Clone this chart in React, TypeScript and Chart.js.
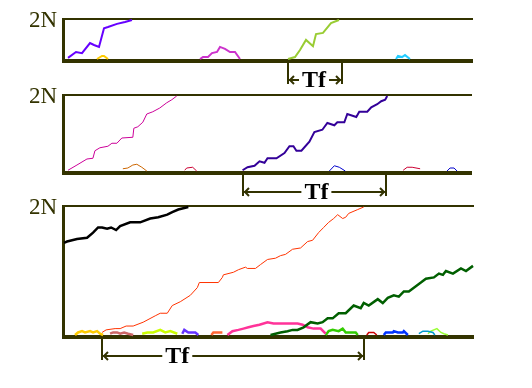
import { useEffect, useRef } from "react";
import { Chart, registerables } from "chart.js";
Chart.register(...registerables);

// x: generations, y: copies of the allele as % of 2N
const GEN_MAX = 408;
const TWO_N = 100;

// Panel 1
const p1aX = [4, 12, 18, 26, 30, 35, 40, 44, 53, 61, 68];
const p1aY = [3, 18, 15, 41, 36, 31, 79, 82, 90, 95, 100];
const p1bX = [33, 38, 40, 44];
const p1bY = [0, 8, 8, 0];
const p1cX = [136, 139, 144, 148, 153, 156, 161, 166, 171, 176];
const p1cY = [0, 5, 5, 15, 18, 31, 26, 18, 18, 0];
const p1dX = [224, 231, 236, 242, 249, 252, 259, 267, 275];
const p1dY = [0, 5, 23, 49, 33, 64, 67, 92, 100];
const p1eX = [332, 334, 338, 341, 346];
const p1eY = [0, 8, 5, 10, 0];
const p1Tf = [224, 278, 250];

// Panel 2
const p2aX = [4, 13, 23, 29, 31, 36, 44, 48, 53, 58, 69, 70, 74, 79, 83, 89, 96, 103, 108, 113];
const p2aY = [1, 8, 16, 17, 27, 31, 33, 37, 37, 44, 45, 57, 59, 65, 76, 79, 84, 91, 95, 100];
const p2bX = [59, 64, 69, 73, 78, 83];
const p2bY = [3, 4, 8, 9, 5, 0];
const p2cX = [121, 123, 129, 133];
const p2cY = [1, 4, 5, 0];
const p2dX = [179, 184, 191, 196, 201, 204, 213, 221, 226, 230, 233, 238, 246, 251, 259, 264, 271, 274, 281, 284, 293, 296, 304, 308, 314, 318, 322, 324];
const p2dY = [1, 5, 7, 13, 11, 17, 17, 24, 33, 33, 27, 27, 39, 52, 55, 64, 61, 65, 65, 76, 72, 79, 79, 85, 89, 93, 95, 100];
const p2eX = [266, 271, 276, 282];
const p2eY = [0, 7, 5, 0];
const p2fX = [340, 344, 349, 357];
const p2fY = [1, 5, 5, 3];
const p2gX = [384, 387, 391, 394];
const p2gY = [0, 4, 4, 0];
const p2Tf = [179, 323, 253];

// Panel 3
const p3aX = [0, 3, 13, 23, 29, 34, 38, 43, 47, 52, 56, 66, 76, 86, 94, 103, 108, 114, 119, 124];
const p3aY = [72, 73, 75, 76, 80, 84, 84, 83, 84, 82, 85, 88, 88, 91, 92, 94, 96, 98, 99, 100];
const p3bX = [38, 42, 51, 56, 62, 69, 79, 91, 96, 103, 108, 116, 126, 133, 135, 154, 158, 159, 169, 174, 181, 183, 191, 196, 203, 211, 216, 221, 228, 236, 243, 248, 254, 259, 264, 269, 273, 278, 281, 284, 293, 299];
const p3bY = [2, 4, 5, 5, 7, 7, 10, 15, 17, 17, 23, 26, 31, 37, 41, 41, 45, 47, 49, 51, 53, 52, 52, 55, 59, 60, 62, 63, 67, 68, 73, 74, 80, 84, 88, 91, 94, 91, 92, 95, 98, 100];
const p3cX = [206, 216, 223, 228, 233, 239, 246, 253, 258, 263, 268, 274, 281, 289, 296, 299, 304, 313, 318, 323, 329, 334, 339, 344, 349, 356, 361, 369, 374, 378, 381, 388, 396, 401, 408];
const p3cY = [0, 2, 3, 4, 4, 6, 10, 9, 10, 13, 13, 17, 17, 23, 21, 25, 23, 28, 25, 29, 31, 30, 34, 34, 37, 41, 44, 45, 48, 47, 50, 48, 52, 50, 54];
const p3dX = [163, 168, 174, 179, 184, 189, 195, 203, 209, 218, 228, 233, 238, 243, 249, 256, 261];
const p3dY = [0, 3, 4, 5, 6, 7, 8, 10, 9, 9, 9, 9, 8, 6, 5, 5, 1];
const p3eX = [261, 264, 268, 274, 278, 281, 286, 291, 293];
const p3eY = [0, 3, 4, 3, 5, 2, 2, 2, 0];
const p3fX = [302, 304, 309, 312];
const p3fY = [0, 2, 2, 0];
const p3gX = [319, 321, 328, 329, 333, 338, 339, 343];
const p3gY = [0, 2, 2, 3, 2, 2, 3, 0];
const p3hX = [354, 358, 363, 368, 370];
const p3hY = [1, 3, 3, 2, 0];
const p3iX = [363, 366, 372, 376, 379, 383];
const p3iY = [1, 3, 5, 2, 1, 0];
const p3jX = [11, 14, 18, 21, 26, 29, 33, 36, 39];
const p3jY = [0, 2, 3, 2, 3, 2, 3, 1, 0];
const p3kX = [46, 49, 53, 56, 60, 64, 69];
const p3kY = [1, 2, 2, 1, 2, 1, 0];
const p3lX = [78, 83, 89, 96, 101, 106, 113];
const p3lY = [1, 2, 2, 4, 2, 3, 1];
const p3mX = [118, 120, 124, 128, 131, 134];
const p3mY = [1, 4, 2, 2, 2, 0];
const p3nX = [147, 149, 158];
const p3nY = [0, 2, 2];
const p3Tf = [38, 299, 113];

type Series = { x: number[]; y: number[]; color: string; w: number };
type Panel = {
  series: Series[];
  tf: number[];
  pad: { left: number; right: number; top: number; bottom: number };
};

const FRAME = "#333300";
const SERIF = '"Liberation Serif", "Times New Roman", Tinos, Times, serif';

const panels: Panel[] = [
  {
    series: [
      { x: p1aX, y: p1aY, color: "#6600ff", w: 2 },
      { x: p1bX, y: p1bY, color: "#ffcc00", w: 2 },
      { x: p1cX, y: p1cY, color: "#cc33cc", w: 2 },
      { x: p1dX, y: p1dY, color: "#99cc33", w: 2 },
      { x: p1eX, y: p1eY, color: "#22ccff", w: 2 },
    ],
    tf: p1Tf,
    pad: { left: 64, right: 60, top: 20, bottom: 329 },
  },
  {
    series: [
      { x: p2aX, y: p2aY, color: "#cc0099", w: 1 },
      { x: p2bX, y: p2bY, color: "#cc6600", w: 1 },
      { x: p2cX, y: p2cY, color: "#cc0033", w: 1 },
      { x: p2dX, y: p2dY, color: "#330099", w: 2 },
      { x: p2eX, y: p2eY, color: "#0000cc", w: 1 },
      { x: p2fX, y: p2fY, color: "#cc0033", w: 1 },
      { x: p2gX, y: p2gY, color: "#0000cc", w: 1 },
    ],
    tf: p2Tf,
    pad: { left: 64, right: 61, top: 96, bottom: 217 },
  },
  {
    series: [
      { x: p3aX, y: p3aY, color: "#000000", w: 2.5 },
      { x: p3bX, y: p3bY, color: "#ff3300", w: 1 },
      { x: p3cX, y: p3cY, color: "#005f00", w: 2.5 },
      { x: p3dX, y: p3dY, color: "#ff3399", w: 2.5 },
      { x: p3eX, y: p3eY, color: "#33cc00", w: 2.5 },
      { x: p3fX, y: p3fY, color: "#cc0000", w: 1.5 },
      { x: p3gX, y: p3gY, color: "#0033ff", w: 2.5 },
      { x: p3hX, y: p3hY, color: "#0099cc", w: 1.5 },
      { x: p3iX, y: p3iY, color: "#99ff33", w: 1.5 },
      { x: p3jX, y: p3jY, color: "#ffcc00", w: 2.5 },
      { x: p3kX, y: p3kY, color: "#cc6666", w: 2.5 },
      { x: p3lX, y: p3lY, color: "#ccff00", w: 2.5 },
      { x: p3mX, y: p3mY, color: "#6633ff", w: 2.5 },
      { x: p3nX, y: p3nY, color: "#ff6633", w: 2.5 },
    ],
    tf: p3Tf,
    pad: { left: 64, right: 59, top: 207, bottom: 53 },
  },
];

function makePlugin(panel: Panel) {
  return {
    id: "panelDecor",
    beforeDatasetsDraw(chart: any) {
      const { ctx, chartArea } = chart;
      const { left, right, top, bottom } = chartArea;
      ctx.save();
      ctx.fillStyle = FRAME;
      ctx.fillRect(left - 2, top - 2, 3, bottom - top + 6);
      ctx.fillRect(left - 2, top - 2, right - left + 3, 2);
      ctx.fillRect(left - 2, bottom, right - left + 3, 4);
      ctx.font = "23px " + SERIF;
      ctx.textAlign = "right";
      ctx.textBaseline = "alphabetic";
      ctx.fillText("2N", left - 7, top + 7);
      ctx.restore();
    },
    afterDraw(chart: any) {
      const { ctx, chartArea, scales } = chart;
      const { bottom } = chartArea;
      const x1 = Math.round(scales.x.getPixelForValue(panel.tf[0]));
      const x2 = Math.round(scales.x.getPixelForValue(panel.tf[1]));
      const tx = scales.x.getPixelForValue(panel.tf[2]);
      const ay = bottom + 21;
      ctx.save();
      ctx.fillStyle = FRAME;
      ctx.fillRect(x1 - 1, bottom + 3, 2, 22);
      ctx.fillRect(x2 - 1, bottom + 3, 2, 22);
      ctx.font = "bold 24px " + SERIF;
      const tw = ctx.measureText("Tf").width;
      const gl = tx - tw / 2 - 3;
      const gr = tx + tw / 2 + 3;
      ctx.strokeStyle = FRAME;
      ctx.lineWidth = 2;
      ctx.beginPath();
      ctx.moveTo(x1 + 1, ay);
      ctx.lineTo(gl, ay);
      ctx.moveTo(gr, ay);
      ctx.lineTo(x2 - 1, ay);
      ctx.moveTo(x1 + 6, ay - 4);
      ctx.lineTo(x1 + 2, ay);
      ctx.lineTo(x1 + 6, ay + 4);
      ctx.moveTo(x2 - 6, ay - 4);
      ctx.lineTo(x2 - 2, ay);
      ctx.lineTo(x2 - 6, ay + 4);
      ctx.stroke();
      ctx.fillStyle = "#000000";
      ctx.textAlign = "center";
      ctx.textBaseline = "alphabetic";
      ctx.fillText("Tf", tx, bottom + 28);
      ctx.restore();
    },
  };
}

function PanelChart({ panel }: { panel: Panel }) {
  const ref = useRef<HTMLCanvasElement | null>(null);
  useEffect(() => {
    if (!ref.current) return;
    const chart = new Chart(ref.current, {
      type: "line",
      data: {
        datasets: panel.series.map((s) => ({
          data: s.x.map((x, i) => ({ x, y: s.y[i] })),
          borderColor: s.color,
          borderWidth: s.w,
          pointRadius: 0,
          tension: 0,
          fill: false,
          clip: 4,
        })),
      },
      options: {
        animation: false,
        responsive: false,
        events: [],
        layout: { padding: panel.pad },
        plugins: { legend: { display: false }, tooltip: { enabled: false } },
        scales: {
          x: { type: "linear", min: 0, max: GEN_MAX, display: false },
          y: { type: "linear", min: 0, max: TWO_N, display: false },
        },
      },
      plugins: [makePlugin(panel)],
    } as any);
    let alive = true;
    if ((document as any).fonts) {
      Promise.all([
        (document as any).fonts.load('23px "Liberation Serif"'),
        (document as any).fonts.load('bold 24px "Liberation Serif"'),
      ])
        .then(() => {
          if (alive) chart.update();
        })
        .catch(() => {});
    }
    return () => {
      alive = false;
      chart.destroy();
    };
  }, [panel]);
  return (
    <canvas
      ref={ref}
      width={532}
      height={388}
      style={{ position: "absolute", left: 0, top: 0, width: 532, height: 388 }}
    />
  );
}

export default function App() {
  return (
    <div style={{ position: "absolute", left: 0, top: 0, width: 532, height: 388, background: "#ffffff" }}>
      {panels.map((p, i) => (
        <PanelChart key={i} panel={p} />
      ))}
    </div>
  );
}
